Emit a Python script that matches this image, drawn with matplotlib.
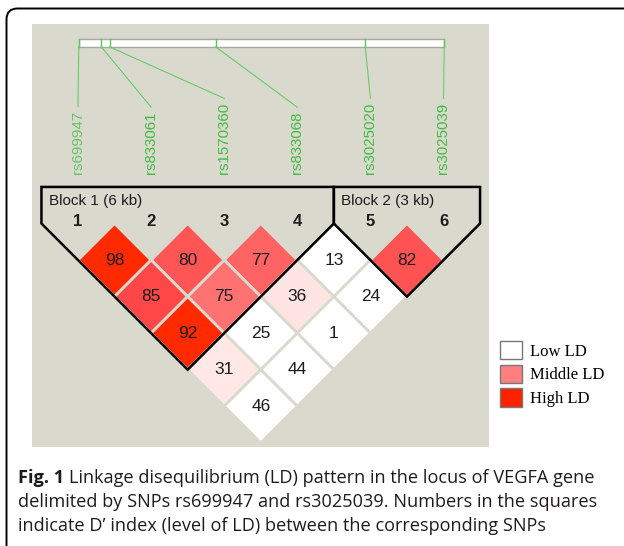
import numpy as np
import matplotlib.pyplot as plt
from matplotlib.patches import Polygon, Rectangle, FancyBboxPatch, Patch

# SNPs in the locus, left to right
snps = ['rs699947', 'rs833061', 'rs1570360', 'rs833068', 'rs3025020', 'rs3025039']
# relative physical position of each SNP along the locus bar (0 = first, 1 = last)
snp_pos = [0.0, 0.062, 0.085, 0.375, 0.784, 1.0]

# pairwise D' values (x100), (i, j) SNP numbers
pairs = [(1, 2), (2, 3), (3, 4), (4, 5), (5, 6),
         (1, 3), (2, 4), (3, 5), (4, 6),
         (1, 4), (2, 5), (3, 6),
         (1, 5), (2, 6),
         (1, 6)]
dprime = [98, 80, 77, 13, 82,
          85, 75, 36, 24,
          92, 25, 1,
          31, 44,
          46]
# colour of each square as in the Haploview output
cell_colors = ['#ff2a00', '#ff5555', '#ff6363', 'white', '#ff5252',
               '#ff4747', '#ff7272', '#ffe4e4', 'white',
               '#ff2a00', 'white', 'white',
               '#ffe8e5', 'white',
               'white']

blocks = [(1, 4, 'Block 1 (6 kb)'), (5, 6, 'Block 2 (3 kb)')]

legend_labels = ['Low LD', 'Middle LD', 'High LD']
legend_colors = ['white', '#ff7f7f', '#ff2200']

caption_bold = 'Fig. 1'
caption = ['Linkage disequilibrium (LD) pattern in the locus of VEGFA gene',
           "delimited by SNPs rs699947 and rs3025039. Numbers in the squares",
           "indicate D\u2019 index (level of LD) between the corresponding SNPs"]

panel_bg = '#d9d9ce'
green = '#3fbb3f'

W, H = 624, 546
fig = plt.figure(figsize=(W / 100, H / 100), dpi=100)

# background axes in pixel units for the frame
bg = fig.add_axes([0, 0, 1, 1])
bg.set_xlim(0, W)
bg.set_ylim(H, 0)
bg.set_axis_off()
bg.add_patch(FancyBboxPatch((6.5, 8.5), 640, 550,
                            boxstyle='round,pad=0,rounding_size=11',
                            fc='white', ec='black', lw=1.4))

# LD panel, data units = SNP spacing
px0, px1, py0, py1 = 32, 489, 24, 447
sp = 73.1
ax = fig.add_axes([px0 / W, 1 - py1 / H, (px1 - px0) / W, (py1 - py0) / H])
ax.set_facecolor(panel_bg)
ax.set_xlim(1 + (px0 - 78) / sp, 1 + (px1 - 78) / sp)
ax.set_ylim(-(py1 - 223.5) / sp, -(py0 - 223.5) / sp)
ax.set_xticks([])
ax.set_yticks([])
for s in ax.spines.values():
    s.set_visible(False)

n = len(snps)
xs = np.arange(1, n + 1)

# locus bar with SNP markers
bar_x0, bar_x1 = 1.01, 6.01
bar_y0, bar_y1 = 2.415, 2.525
ax.add_patch(Rectangle((bar_x0, bar_y0), bar_x1 - bar_x0, bar_y1 - bar_y0,
                       fc='white', ec='#a8a8a0', lw=1))
mark_x = [bar_x0 + p * (bar_x1 - bar_x0) for p in snp_pos]
for mx in mark_x:
    ax.plot([mx, mx], [bar_y0, bar_y1], color='#55cc55', lw=1)

# SNP names
label_y = 0.677
texts = []
for k, name in enumerate(snps):
    c = '#66c466' if k == 0 else green
    t = ax.text(xs[k], label_y, name, rotation=90, ha='center', va='bottom',
                fontsize=10.8, color=c, family='Liberation Sans')
    texts.append(t)

fig.canvas.draw()
r = fig.canvas.get_renderer()
inv = ax.transData.inverted()
for k, t in enumerate(texts):
    bb = t.get_window_extent(r)
    top = inv.transform((0, bb.y1))[1] + 0.06
    ax.plot([mark_x[k], xs[k]], [bar_y0, top], color='#66cc66', lw=0.8)

# LD squares
for (i, j), v, c in zip(pairs, dprime, cell_colors):
    cx, cy = (i + j) / 2, -(j - i) / 2
    ax.add_patch(Polygon([(cx, cy + 0.5), (cx + 0.5, cy), (cx, cy - 0.5), (cx - 0.5, cy)],
                         closed=True, fc=c, ec=panel_bg, lw=2))
    ax.text(cx, cy, str(v), ha='center', va='center', fontsize=12.5,
            color='#1c1c1c', family='Liberation Sans')

# block outlines
for a, b, name in blocks:
    pts = [(a - 0.5, 0.5), (b + 0.5, 0.5), (b + 0.5, 0.0),
           ((a + b) / 2, -(b - a + 1) / 2), (a - 0.5, 0.0)]
    ax.add_patch(Polygon(pts, closed=True, fill=False, ec='black', lw=1.8,
                         joinstyle='miter'))
    ax.text(a - 0.4, 0.31, name, ha='left', va='center', fontsize=11,
            color='#1c1c1c', family='Liberation Sans')

for k in range(n):
    ax.text(xs[k], 0.03, str(k + 1), ha='center', va='center', fontsize=12,
            fontweight='bold', color='#1c1c1c', family='Liberation Sans')

# legend
handles = [Patch(fc=c, ec='#777777', lw=1) for c in legend_colors]
fig.legend(handles, legend_labels, loc='upper left',
           bbox_to_anchor=(500 / W, 1 - 341 / H), frameon=False,
           prop={'family': 'Liberation Serif', 'size': 12},
           handlelength=1.3, handleheight=1.3, handletextpad=0.5,
           labelspacing=0.3, borderpad=0, borderaxespad=0)

# caption
cap_x = 18 / W
fs = 13.1
t0 = fig.text(cap_x, 1 - 477.8 / H, caption_bold, ha='left', va='center',
              fontsize=fs, fontweight='bold', color='#1f1b1c', family='Open Sans')
fig.canvas.draw()
bb = t0.get_window_extent(fig.canvas.get_renderer())
for k, line in enumerate(caption):
    y = 1 - (477.8 + 23.9 * k) / H
    if k == 0:
        fig.text(bb.x1 / W + 5 / W, y, line, ha='left', va='center', fontsize=fs,
                 color='#1f1b1c', family='Open Sans')
    else:
        fig.text(cap_x, y, line, ha='left', va='center', fontsize=fs,
                 color='#1f1b1c', family='Open Sans')

fig.savefig('out.png', dpi=100)
